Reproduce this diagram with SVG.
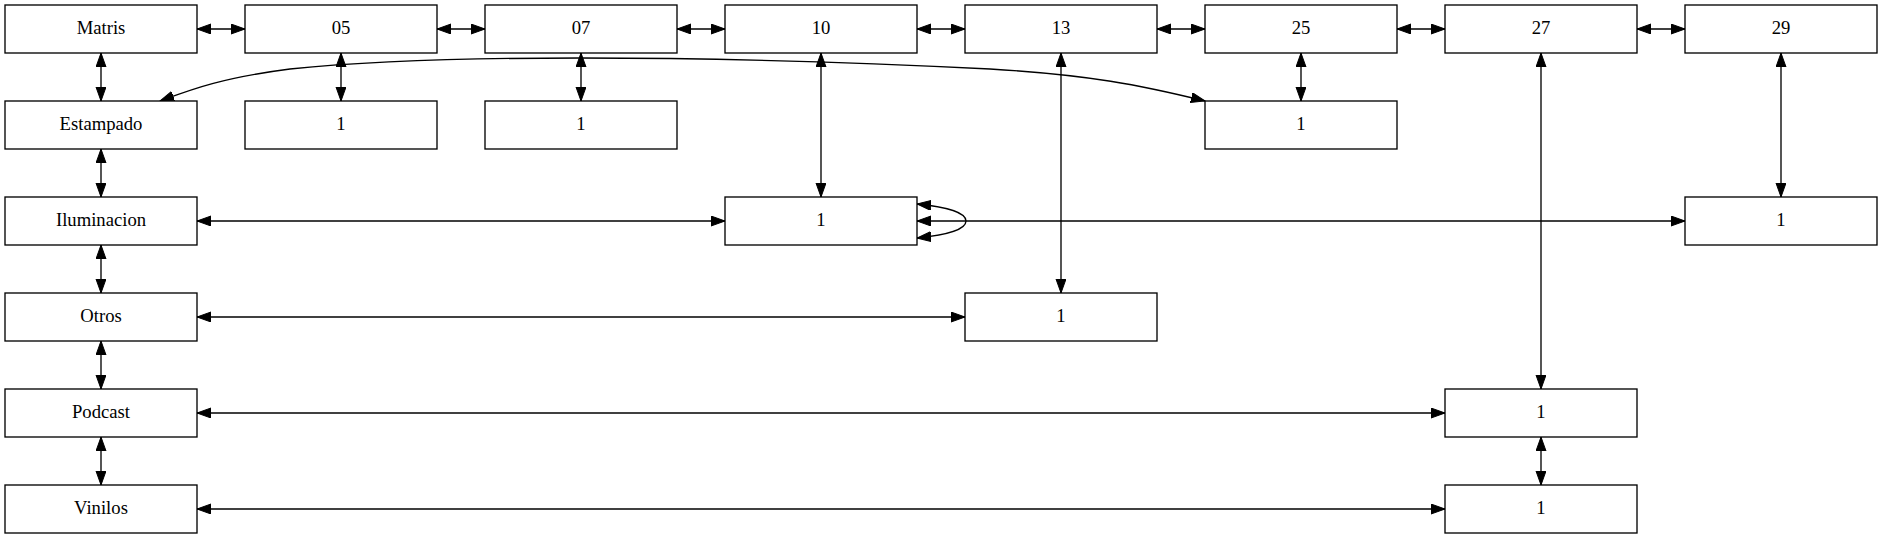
<svg xmlns="http://www.w3.org/2000/svg" width="1883" height="539" viewBox="0 0 1883 539">
<style>
.node rect{fill:#fff;stroke:#000;stroke-width:1.33}
.node text{font-size:18.67px;text-anchor:middle;fill:#000}
.edges path{fill:none;stroke:#000;stroke-width:1.33;marker-start:url(#ah);marker-end:url(#ah)}
</style>
<defs>
<marker id="ah" markerUnits="userSpaceOnUse" markerWidth="15" markerHeight="11" refX="14" refY="5" orient="auto-start-reverse" viewBox="0 0 15 11">
<path d="M0,0 L14,5 L0,10 z" fill="#000" stroke="#000" stroke-width="1"/>
</marker>
</defs>
<rect width="1883" height="539" fill="#fff"/>
<g class="edges" id="connectors">
<path d="M197,29 L245,29"/>
<path d="M437,29 L485,29"/>
<path d="M677,29 L725,29"/>
<path d="M917,29 L965,29"/>
<path d="M1157,29 L1205,29"/>
<path d="M1397,29 L1445,29"/>
<path d="M1637,29 L1685,29"/>
<path d="M101,53 L101,101"/>
<path d="M101,149 L101,197"/>
<path d="M101,245 L101,293"/>
<path d="M101,341 L101,389"/>
<path d="M101,437 L101,485"/>
<path d="M341,53 L341,101"/>
<path d="M581,53 L581,101"/>
<path d="M1301,53 L1301,101"/>
<path d="M821,53 L821,197"/>
<path d="M1061,53 L1061,293"/>
<path d="M1541,53 L1541,389"/>
<path d="M1541,437 L1541,485"/>
<path d="M1781,53 L1781,197"/>
<path d="M197,221 L725,221"/>
<path d="M917,221 L1685,221"/>
<path d="M197,317 L965,317"/>
<path d="M197,413 L1445,413"/>
<path d="M197,509 L1445,509"/>
<path d="M917,204 C948,207 966,213 966,221 C966,229 948,235 917,238"/>
<path d="M160,101 C190,90 220,78 290,69 C380,60 480,58 580,58 C700,58 850,62 990,69 C1090,75 1140,85 1205,101"/>
</g>
<g font-family="'Liberation Serif', 'Times New Roman', Tinos, 'DejaVu Serif', serif">
<g id="n_matris" class="node"><rect x="5" y="5" width="192" height="48"/><text x="101" y="34">Matris</text></g>
<g id="n_05" class="node"><rect x="245" y="5" width="192" height="48"/><text x="341" y="34">05</text></g>
<g id="n_07" class="node"><rect x="485" y="5" width="192" height="48"/><text x="581" y="34">07</text></g>
<g id="n_10" class="node"><rect x="725" y="5" width="192" height="48"/><text x="821" y="34">10</text></g>
<g id="n_13" class="node"><rect x="965" y="5" width="192" height="48"/><text x="1061" y="34">13</text></g>
<g id="n_25" class="node"><rect x="1205" y="5" width="192" height="48"/><text x="1301" y="34">25</text></g>
<g id="n_27" class="node"><rect x="1445" y="5" width="192" height="48"/><text x="1541" y="34">27</text></g>
<g id="n_29" class="node"><rect x="1685" y="5" width="192" height="48"/><text x="1781" y="34">29</text></g>
<g id="n_estampado" class="node"><rect x="5" y="101" width="192" height="48"/><text x="101" y="130">Estampado</text></g>
<g id="n_05_1" class="node"><rect x="245" y="101" width="192" height="48"/><text x="341" y="130">1</text></g>
<g id="n_07_1" class="node"><rect x="485" y="101" width="192" height="48"/><text x="581" y="130">1</text></g>
<g id="n_25_1" class="node"><rect x="1205" y="101" width="192" height="48"/><text x="1301" y="130">1</text></g>
<g id="n_iluminacion" class="node"><rect x="5" y="197" width="192" height="48"/><text x="101" y="226">Iluminacion</text></g>
<g id="n_10_1" class="node"><rect x="725" y="197" width="192" height="48"/><text x="821" y="226">1</text></g>
<g id="n_29_1" class="node"><rect x="1685" y="197" width="192" height="48"/><text x="1781" y="226">1</text></g>
<g id="n_otros" class="node"><rect x="5" y="293" width="192" height="48"/><text x="101" y="322">Otros</text></g>
<g id="n_13_1" class="node"><rect x="965" y="293" width="192" height="48"/><text x="1061" y="322">1</text></g>
<g id="n_podcast" class="node"><rect x="5" y="389" width="192" height="48"/><text x="101" y="418">Podcast</text></g>
<g id="n_27_1" class="node"><rect x="1445" y="389" width="192" height="48"/><text x="1541" y="418">1</text></g>
<g id="n_vinilos" class="node"><rect x="5" y="485" width="192" height="48"/><text x="101" y="514">Vinilos</text></g>
<g id="n_27_2" class="node"><rect x="1445" y="485" width="192" height="48"/><text x="1541" y="514">1</text></g>
</g>
</svg>
